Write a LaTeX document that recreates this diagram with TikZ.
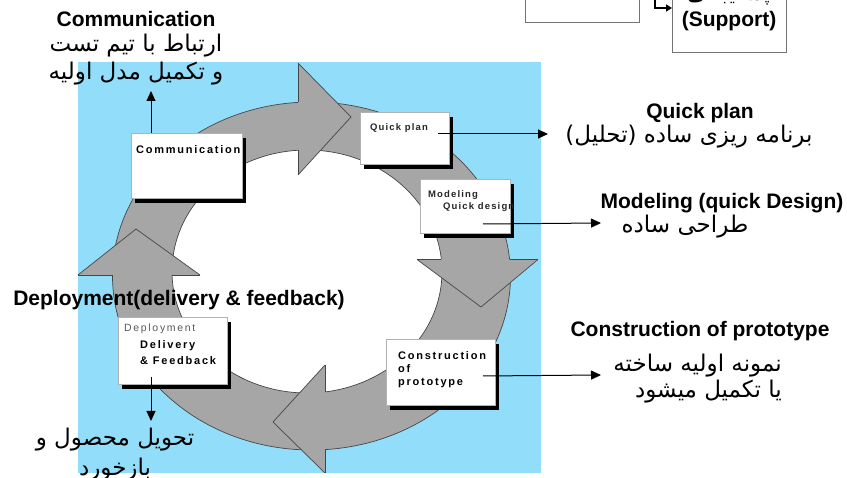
\documentclass[tikz,border=0pt]{standalone}
\usepackage{fontspec}
\setmainfont{Liberation Sans}
\newfontfamily\arabicfont[Script=Arabic]{DejaVu Sans}
\newfontfamily\boxfont[LetterSpace=16]{Liberation Sans}
\newfontfamily\boxfontsmall[LetterSpace=12]{Liberation Sans}
\TeXXeTstate=1
\usetikzlibrary{arrows.meta,shadows}

\definecolor{skyback}{RGB}{146,222,250}
\definecolor{ringgray}{RGB}{166,166,166}
\definecolor{ringline}{RGB}{70,70,70}

\begin{document}
\begin{tikzpicture}[x=1pt,y=-1pt,
  procbox/.style={draw=gray!60, line width=0.7pt, fill=white, anchor=north west,
    inner sep=0pt, drop shadow={shadow xshift=4pt, shadow yshift=-5pt, fill=black, opacity=1}},
  topbox/.style={draw=gray!90!black, line width=1.3pt, fill=white, anchor=north west, inner sep=0pt},
  boxtxt/.style={anchor=west, inner sep=0pt, font=\boxfont\bfseries\fontsize{11}{12}\selectfont},
  boxtxtsmall/.style={anchor=west, inner sep=0pt, text=black!85, font=\boxfontsmall\bfseries\fontsize{9.5}{11}\selectfont},
  boxtxtlight/.style={anchor=west, inner sep=0pt, text=black!65, font=\boxfont\fontsize{10.5}{12}\selectfont},
  biglabel/.style={inner sep=0pt, font=\bfseries\fontsize{21}{24}\selectfont},
  falabel/.style={inner sep=0pt, font=\arabicfont\fontsize{23}{28}\selectfont},
  conn/.style={line width=1pt, -{Triangle[length=10pt,width=9pt]}},
  ringedge/.style={draw=ringline, line width=0.7pt},
]
\useasboundingbox (0,0) rectangle (847,478);

% background panel and the white centre of the cycle
\fill[skyback] (78,62) rectangle (541,473);
\fill[white] (307,271.5) ellipse [x radius=135, y radius=121.5];

% grey ring
\fill[ringgray, even odd rule] (311.5,276) ellipse [x radius=199, y radius=174]
  (307,271.5) ellipse [x radius=135, y radius=121.5];
\draw[ringedge] (311.5,276) ellipse [x radius=199, y radius=174];
\draw[ringedge] (307,271.5) ellipse [x radius=135, y radius=121.5];

% four arrow heads on the ring
\fill[ringgray] (298,63) -- (351,117) -- (298,175) -- cycle;
\fill[ringgray] (417,259.5) -- (538,259.5) -- (481,307) -- cycle;
\fill[ringgray] (325,365) -- (273,422) -- (325,473) -- cycle;
\fill[ringgray] (78,275) -- (136,229) -- (200,275) -- cycle;
\draw[ringedge] (298,63) -- (351,117) -- (298,175);
\draw[ringedge] (298,63) -- (298,102.4) (298,150.3) -- (298,175);
\draw[ringedge] (417,259.5) -- (481,307) -- (538,259.5);
\draw[ringedge] (417,259.5) -- (441.3,259.5) (509.6,259.5) -- (538,259.5);
\draw[ringedge] (325,365) -- (273,422) -- (325,473);
\draw[ringedge] (325,365) -- (325,391.9) (325,449.6) -- (325,473);
\draw[ringedge] (78,275) -- (136,229) -- (200,275);
\draw[ringedge] (78,275) -- (112.5,275) (172,275) -- (200,275);

% phase boxes
\node[procbox, minimum width=111, minimum height=65] (comm) at (131,133) {};
\node[procbox, minimum width=89, minimum height=52] (plan) at (360,112) {};
\node[procbox, minimum width=90, minimum height=54] (model) at (420,179) {};
\node[procbox, minimum width=109, minimum height=66] (constr) at (386,339) {};
\node[procbox, minimum width=109, minimum height=67] (deploy) at (118,317) {};

\node[boxtxt] (commtxt) at (136,150) {Communication};
\node[boxtxtsmall] (plantxt) at (370,128) {Quick plan};
\node[boxtxtsmall] (modtxta) at (428,195) {Modeling};
\node[boxtxtsmall] (modtxtb) at (443,207) {Quick design};
\node[boxtxt] (contxta) at (398,356) {Construction};
\node[boxtxt] (contxtb) at (398,369) {of};
\node[boxtxt] (contxtc) at (398,383) {prototype};
\node[boxtxtlight] (deptxta) at (124,329) {Deployment};
\node[boxtxt] (deptxtb) at (140,346) {Delivery};
\node[boxtxt] (deptxtc) at (140,361) {\& Feedback};

% boxes along the upper edge
\node[topbox, minimum width=114, minimum height=34] (prevbox) at (525,-12) {};
\node[topbox, minimum width=114, minimum height=64] (support) at (672,-12) {};
\node[inner sep=0pt, anchor=base, font=\arabicfont\bfseries\fontsize{19}{22}\selectfont] (supfa) at (729,1) {\beginR پشتیبانی\endR};
\node[biglabel] (supen) at (729,21) {(Support)};
\coordinate (elb) at (655,-2);
\draw[line width=1.6pt, -{Triangle[length=6pt,width=7pt]}] (elb) |- (support.west |- 0,8);

% titles and Persian notes
\node[biglabel] (commtitle) at (136,19) {Communication};
\node[falabel, align=center] (commfa) at (136,60) {\beginR ارتباط با تیم تست\endR\\ \beginR و تکمیل مدل اولیه\endR};
\node[biglabel] (plantitle) at (700,113) {Quick plan};
\node[falabel] (planfa) at (689,137) {\beginR برنامه ریزی ساده (تحلیل)\endR};
\node[biglabel] (modtitle) at (722,203) {Modeling (quick Design)};
\node[falabel] (modfa) at (685,227) {\beginR طراحی ساده\endR};
\node[biglabel] (contitle) at (700,331) {Construction of prototype};
\node[falabel, align=right, anchor=east, font=\arabicfont\fontsize{23}{26}\selectfont] (confa) at (782,379) {\beginR نمونه اولیه ساخته\endR\\ \beginR یا تکمیل میشود\endR};
\node[biglabel] (deptitle) at (179,300) {Deployment(delivery \& feedback)};
\node[falabel, align=center, font=\arabicfont\fontsize{23}{30}\selectfont] (depfa) at (115,455) {\beginR تحویل محصول و\endR\\ \beginR بازخورد\endR};

% connectors from the boxes to their notes
\coordinate (commout) at (151,133);
\coordinate (commend) at (151,91);
\coordinate (planout) at (438,134);
\coordinate (planend) at (548,134);
\coordinate (modout) at (483,224);
\coordinate (modend) at (601,223);
\coordinate (conout) at (483,376);
\coordinate (conend) at (601,375);
\coordinate (depout) at (151,377);
\coordinate (depend) at (151,421);
\draw[conn] (commout) -- (commend);
\draw[conn] (planout) -- (planend);
\draw[conn] (modout) -- (modend);
\draw[conn] (conout) -- (conend);
\draw[conn] (depout) -- (depend);
\end{tikzpicture}
\end{document}
